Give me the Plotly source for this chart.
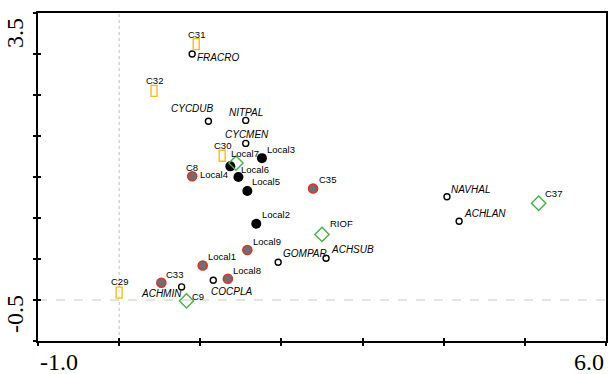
import plotly.graph_objects as go

# ---------------- data ----------------
species_names = ["FRACRO", "CYCDUB", "NITPAL", "CYCMEN", "GOMPAR", "ACHSUB",
                 "COCPLA", "ACHMIN", "NAVHAL", "ACHLAN"]
species_x = [0.90, 1.10, 1.56, 1.56, 1.96, 2.55, 1.16, 0.77, 4.04, 4.19]
species_y = [3.00, 2.18, 2.19, 1.91, 0.46, 0.51, 0.24, 0.16, 1.26, 0.96]

black_names = ["Local3", "Local4", "Local6", "Local5", "Local2"]
black_x = [1.76, 1.37, 1.47, 1.58, 1.69]
black_y = [1.73, 1.63, 1.50, 1.33, 0.93]

red_names = ["C8", "C35", "Local9", "Local1", "Local8", "C33"]
red_x = [0.90, 2.39, 1.58, 1.03, 1.34, 0.52]
red_y = [1.51, 1.36, 0.61, 0.42, 0.26, 0.21]

green_names = ["Local7", "RIOF", "C9", "C37"]
green_x = [1.44, 2.50, 0.83, 5.17]
green_y = [1.67, 0.80, -0.01, 1.18]

yellow_names = ["C31", "C32", "C30", "C29"]
yellow_x = [0.95, 0.43, 1.27, 0.00]
yellow_y = [3.12, 2.55, 1.76, 0.09]

x_tick_vals = [-1.0, 6.0]
x_tick_labels = ["-1.0", "6.0"]
y_tick_vals = [-0.5, 3.5]
y_tick_labels = ["-0.5", "3.5"]

# ---------------- label styles (anchor, xshift, yshift) ----------------
species_lbl = {
    "FRACRO": ("left", 3, -3.5), "CYCDUB": ("right", 8, 13),
    "NITPAL": ("center", 0, 7.5), "CYCMEN": ("center", 1, 8.7),
    "GOMPAR": ("left", 2.5, 8.4), "ACHSUB": ("left", 2.5, 8.7),
    "COCPLA": ("left", -4, -10.7), "ACHMIN": ("right", 2.5, -7),
    "NAVHAL": ("left", 2.5, 7.4), "ACHLAN": ("left", 2.5, 8),
}
sample_lbl = {
    "C31": ("center", 0, 10), "C32": ("center", 0, 10.3), "C30": ("center", 0, 10),
    "C29": ("center", 0, 11), "Local3": ("left", 3, 9), "Local7": ("left", -7, 10),
    "Local4": ("right", 0, -8.3), "Local6": ("left", 0.5, 7.4), "C8": ("center", 0, 8.3),
    "Local5": ("left", 3, 9), "C35": ("left", 4, 9), "Local2": ("left", 3.5, 9.3),
    "RIOF": ("left", 5.5, 11), "Local9": ("left", 3.5, 8.6), "Local1": ("left", 3.5, 9),
    "Local8": ("left", 3.5, 8.4), "C33": ("left", 2.5, 8.4), "C9": ("left", 4, 4),
    "C37": ("left", 4, 10),
}

FONT = "Liberation Sans"
fig = go.Figure()

# reference lines through origin
fig.add_shape(type="line", x0=0, x1=0, y0=-0.5, y1=3.5, xref="x", yref="y",
              line=dict(color="#bdbdbd", width=1, dash="dot"), layer="below")
fig.add_shape(type="line", x0=-1, x1=6, y0=0, y1=0, xref="x", yref="y",
              line=dict(color="#c8c8c8", width=1, dash="dash"), layer="below")

fig.add_trace(go.Scatter(x=species_x, y=species_y, mode="markers", hoverinfo="text",
                         text=species_names,
                         marker=dict(symbol="circle-open", size=6, color="black",
                                     line=dict(width=1.4, color="black"))))
fig.add_trace(go.Scatter(x=black_x, y=black_y, mode="markers", text=black_names,
                         marker=dict(symbol="circle", size=10, color="black")))
fig.add_trace(go.Scatter(x=red_x, y=red_y, mode="markers", text=red_names,
                         marker=dict(symbol="circle", size=9, color="#6f6f6f",
                                     line=dict(width=1.6, color="#d6342c"))))
fig.add_trace(go.Scatter(x=green_x, y=green_y, mode="markers", text=green_names,
                         marker=dict(symbol="diamond-open", size=11, color="#45b04a",
                                     line=dict(width=1.4, color="#45b04a"))))
# invisible carrier for the yellow samples (rectangles drawn as pixel-size shapes)
fig.add_trace(go.Scatter(x=yellow_x, y=yellow_y, mode="markers", text=yellow_names,
                         marker=dict(size=8, opacity=0)))
for xv, yv in zip(yellow_x, yellow_y):
    fig.add_shape(type="rect", xref="x", yref="y",
                  xsizemode="pixel", xanchor=xv, x0=-3, x1=3,
                  ysizemode="pixel", yanchor=yv, y0=-5.5, y1=5.5,
                  line=dict(color="#f2bd2a", width=1.4), fillcolor="rgba(255,250,225,0.6)")

# invisible trace on overlay axes (for the inner halves of the crossing ticks)
fig.add_trace(go.Scatter(x=[x_tick_vals[0]], y=[y_tick_vals[0]], xaxis="x2", yaxis="y2",
                         mode="markers", marker=dict(opacity=0), hoverinfo="skip"))

annotations = []
for n, xv, yv in zip(species_names, species_x, species_y):
    a, dx, dy = species_lbl[n]
    annotations.append(dict(x=xv, y=yv, text=n, showarrow=False, xanchor=a, yanchor="middle",
                            xshift=dx, yshift=dy,
                            font=dict(family=FONT, size=10, color="black", style="italic")))
for names, xs, ys in [(black_names, black_x, black_y), (red_names, red_x, red_y),
                      (green_names, green_x, green_y), (yellow_names, yellow_x, yellow_y)]:
    for n, xv, yv in zip(names, xs, ys):
        a, dx, dy = sample_lbl[n]
        annotations.append(dict(x=xv, y=yv, text=n, showarrow=False, xanchor=a,
                                yanchor="middle", xshift=dx, yshift=dy,
                                font=dict(family=FONT, size=9.5, color="black")))

# end tick labels (serif)
TFONT = dict(family="Liberation Serif", size=24, color="black")
annotations.append(dict(x=x_tick_vals[0], y=0, xref="x", yref="paper", text=x_tick_labels[0],
                        showarrow=False, xanchor="left", yanchor="top", yshift=-6, font=TFONT))
annotations.append(dict(x=x_tick_vals[1], y=0, xref="x", yref="paper", text=x_tick_labels[1],
                        showarrow=False, xanchor="right", yanchor="top", yshift=-6, font=TFONT))
annotations.append(dict(x=0, y=y_tick_vals[1], xref="paper", yref="y", text=y_tick_labels[1],
                        showarrow=False, xanchor="right", yanchor="top", textangle=-90,
                        xshift=-8, yshift=-3, font=TFONT))
annotations.append(dict(x=0, y=y_tick_vals[0], xref="paper", yref="y", text=y_tick_labels[0],
                        showarrow=False, xanchor="right", yanchor="bottom", textangle=-90,
                        xshift=-8, yshift=6, font=TFONT))

common_axis = dict(showticklabels=False, ticklen=3, tickwidth=1.5, tickcolor="black",
                   showgrid=False, zeroline=False)
fig.update_layout(
    width=612, height=374,
    margin=dict(l=38, r=4, t=13, b=33),
    paper_bgcolor="white", plot_bgcolor="white",
    showlegend=False,
    annotations=annotations,
    xaxis=dict(range=[-1, 6], dtick=1, tick0=-1, ticks="outside",
               showline=True, linecolor="black", linewidth=1.8, mirror=True, **common_axis),
    yaxis=dict(range=[-0.5, 3.5], dtick=0.5, tick0=-0.5, ticks="outside",
               showline=True, linecolor="black", linewidth=1.8, mirror=True, **common_axis),
    xaxis2=dict(range=[-1, 6], dtick=1, tick0=-1, ticks="inside", overlaying="x",
                anchor="y2", side="bottom", showline=False, **common_axis),
    yaxis2=dict(range=[-0.5, 3.5], dtick=0.5, tick0=-0.5, ticks="inside", overlaying="y",
                anchor="x2", side="left", showline=False, **common_axis),
)

fig.write_html("out.html")
